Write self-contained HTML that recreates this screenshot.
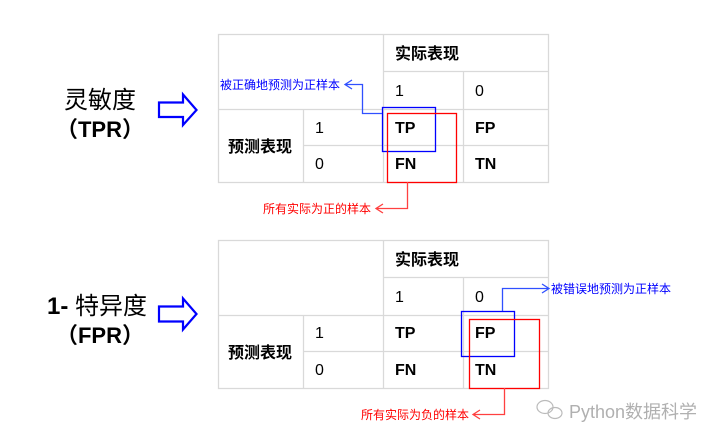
<!DOCTYPE html>
<html><head><meta charset="utf-8"><style>
html,body{margin:0;padding:0;background:#fff;}
svg{display:block;font-family:"Liberation Sans","Noto Sans CJK SC",sans-serif;}
</style></head><body>
<svg width="718" height="444" viewBox="0 0 718 444" xmlns="http://www.w3.org/2000/svg">
<defs>
<g id="tbl" stroke="#d9d9d9" stroke-width="1.3" fill="none">
<rect x="218.5" y="0.5" width="330" height="148"/>
<line x1="383.5" y1="0" x2="383.5" y2="148"/>
<line x1="383" y1="37.5" x2="548" y2="37.5"/>
<line x1="218" y1="75.5" x2="548" y2="75.5"/>
<line x1="303.5" y1="75" x2="303.5" y2="148"/>
<line x1="303" y1="111.5" x2="548" y2="111.5"/>
<line x1="463.5" y1="37" x2="463.5" y2="148"/>
</g>
</defs>
<g transform="translate(0,34)"><use href="#tbl"/></g>
<g transform="translate(0,240)"><use href="#tbl"/></g>

<g font-size="16" fill="#000">
<text x="395" y="59" font-weight="bold" font-size="16">实际表现</text>
<text x="395" y="96">1</text><text x="475" y="96">0</text>
<text x="315" y="133">1</text><text x="315" y="169">0</text>
<text x="228" y="152" font-weight="bold" font-size="16">预测表现</text>
<text x="395" y="133" font-weight="bold">TP</text><text x="475" y="133" font-weight="bold">FP</text>
<text x="395" y="169" font-weight="bold">FN</text><text x="475" y="169" font-weight="bold">TN</text>

<text x="395" y="265" font-weight="bold" font-size="16">实际表现</text>
<text x="395" y="302">1</text><text x="475" y="302">0</text>
<text x="315" y="338">1</text><text x="315" y="375">0</text>
<text x="228" y="358" font-weight="bold" font-size="16">预测表现</text>
<text x="395" y="338" font-weight="bold">TP</text><text x="475" y="338" font-weight="bold">FP</text>
<text x="395" y="375" font-weight="bold">FN</text><text x="475" y="375" font-weight="bold">TN</text>
</g>

<g fill="#000" font-size="24">
<text x="100" y="108" text-anchor="middle">灵敏度</text>
<text x="100" y="137" text-anchor="middle" font-weight="bold" font-size="22">（TPR）</text>
<text x="97" y="314" text-anchor="middle"><tspan font-weight="bold">1-</tspan> 特异度</text>
<text x="100" y="343" text-anchor="middle" font-weight="bold" font-size="22">（FPR）</text>
</g>
<g fill="none" stroke="#0000ff" stroke-width="2.2">
<path d="M159,102.5 H183 V94.5 L196.5,110 L183,125 V117 H159 Z"/>
<path d="M159,306.5 H183 V298.5 L196.5,314 L183,329.5 V321.5 H159 Z"/>
</g>

<g fill="none" stroke-width="1.3">
<rect x="382.5" y="107.5" width="53" height="44" stroke="#0000ff"/>
<rect x="387.5" y="113.5" width="69" height="69" stroke="#ff0000"/>
<rect x="461.5" y="311.5" width="53" height="45" stroke="#0000ff"/>
<rect x="469.5" y="319.5" width="70" height="69" stroke="#ff0000"/>
<path d="M382,113.5 H362.5 V84.5 H346 M352,80 L345,84.5 L352,89" stroke="#3050ff"/>
<path d="M407.5,182 V208.5 H377 M383,204 L376,208.5 L383,213" stroke="#ff4040"/>
<path d="M502.5,311 V288.5 H548 M542,284 L549,288.5 L542,293" stroke="#3050ff"/>
<path d="M504.5,388 V414.5 H474 M480,410 L473,414.5 L480,419" stroke="#ff4040"/>
</g>
<g font-size="12">
<text x="220" y="89" fill="#0000ff">被正确地预测为正样本</text>
<text x="263" y="213" fill="#ff0000">所有实际为正的样本</text>
<text x="551" y="293" fill="#0000ff">被错误地预测为正样本</text>
<text x="361" y="419" fill="#ff0000">所有实际为负的样本</text>
</g>
<g fill="none" stroke="#bbb" stroke-width="1.2">
<ellipse cx="545" cy="407" rx="8" ry="6.5"/>
<ellipse cx="555" cy="413" rx="7" ry="5.5"/>
</g>
<text x="569" y="418" font-size="18" fill="#b0b0b0">Python数据科学</text>
</svg>
</body></html>
